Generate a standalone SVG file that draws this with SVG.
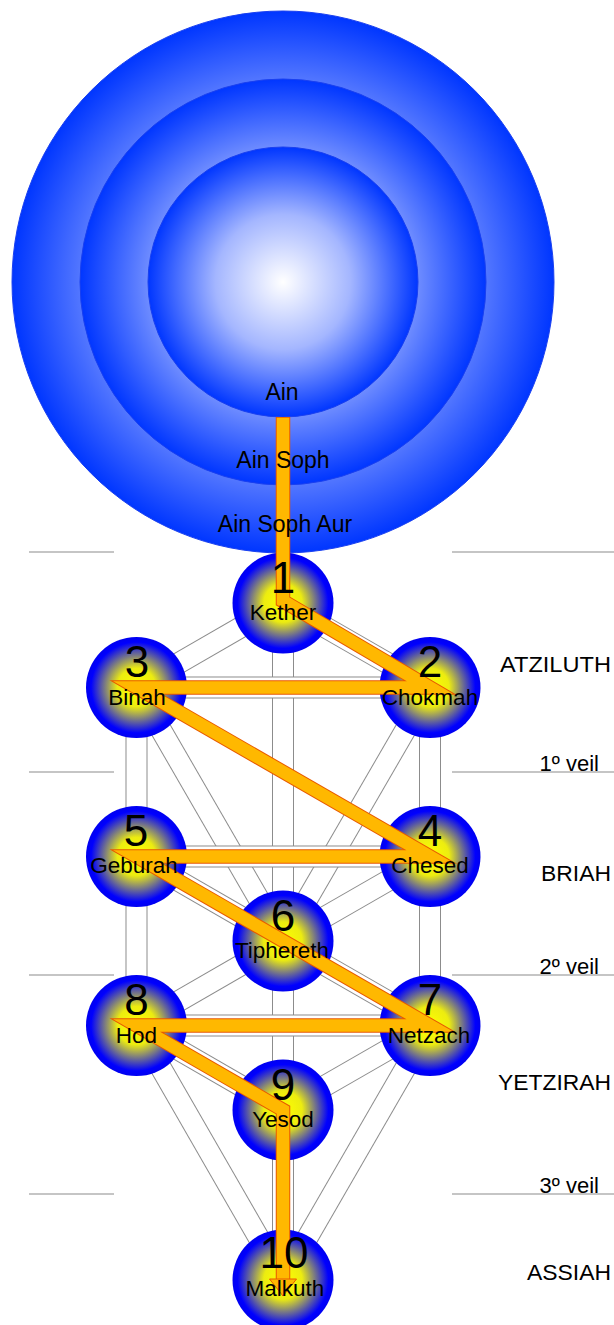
<svg xmlns="http://www.w3.org/2000/svg" width="614" height="1325" viewBox="0 0 614 1325">
<defs>
<radialGradient id="gBig" cx="50%" cy="50%" r="50%">
<stop offset="0" stop-color="#ffffff"/>
<stop offset="0.5" stop-color="#a4b6ff"/>
<stop offset="1" stop-color="#0036ff"/>
</radialGradient>
<radialGradient id="gNode" cx="50%" cy="50%" r="50%">
<stop offset="0" stop-color="#ffff00"/>
<stop offset="0.38" stop-color="#ecec10"/>
<stop offset="0.9" stop-color="#0000ff"/>
<stop offset="1" stop-color="#0000f0"/>
</radialGradient>
<style>
.big{fill:url(#gBig);stroke:#1a40f0;stroke-width:1}
.node{fill:url(#gNode)}
.bo{stroke:#8c8c8c;stroke-width:22;fill:none}
.bi{stroke:#ffffff;stroke-width:20;fill:none}
.veil{stroke:#8c8c8c;stroke-width:1.2}
text{font-family:"Liberation Sans",Arial,Helvetica,sans-serif;fill:#000}
.num{font-size:44px;text-anchor:middle}
.lbl{font-size:22.5px;text-anchor:middle}
.ain{font-size:23px;text-anchor:middle}
.side{font-size:22px;text-anchor:end}
.fo{fill:none;stroke:#e85a00;stroke-width:14.5;stroke-linejoin:miter;stroke-miterlimit:10}
.fi{fill:none;stroke:#ffb800;stroke-width:12.5;stroke-linejoin:miter;stroke-miterlimit:10}
</style>
</defs>
<rect width="614" height="1325" fill="#ffffff"/>

<g id="ain-soph-aur"><circle class="big" cx="283" cy="282" r="271"/></g>
<g id="ain-soph"><circle class="big" cx="283" cy="282" r="203"/></g>
<g id="ain"><circle class="big" cx="283" cy="282" r="135"/></g>

<g id="veils">
<line class="veil" x1="29" y1="552" x2="114" y2="552"/>
<line class="veil" x1="452" y1="552" x2="614" y2="552"/>
<line class="veil" x1="29" y1="772" x2="114" y2="772"/>
<line class="veil" x1="452" y1="772" x2="614" y2="772"/>
<line class="veil" x1="29" y1="975" x2="114" y2="975"/>
<line class="veil" x1="452" y1="975" x2="614" y2="975"/>
<line class="veil" x1="29" y1="1194" x2="114" y2="1194"/>
<line class="veil" x1="452" y1="1194" x2="614" y2="1194"/>
</g>

<g id="connectors">
<g id="paths">
<line class="bo" x1="283" y1="603" x2="430" y2="687.5"/><line class="bi" x1="283" y1="603" x2="430" y2="687.5"/>
<line class="bo" x1="283" y1="603" x2="136.5" y2="687.5"/><line class="bi" x1="283" y1="603" x2="136.5" y2="687.5"/>
<line class="bo" x1="283" y1="603" x2="283" y2="941"/><line class="bi" x1="283" y1="603" x2="283" y2="941"/>
<line class="bo" x1="430" y1="687.5" x2="430" y2="856.5"/><line class="bi" x1="430" y1="687.5" x2="430" y2="856.5"/>
<line class="bo" x1="136.5" y1="687.5" x2="136.5" y2="856.5"/><line class="bi" x1="136.5" y1="687.5" x2="136.5" y2="856.5"/>
<line class="bo" x1="430" y1="687.5" x2="283" y2="941"/><line class="bi" x1="430" y1="687.5" x2="283" y2="941"/>
<line class="bo" x1="136.5" y1="687.5" x2="283" y2="941"/><line class="bi" x1="136.5" y1="687.5" x2="283" y2="941"/>
<line class="bo" x1="430" y1="856.5" x2="283" y2="941"/><line class="bi" x1="430" y1="856.5" x2="283" y2="941"/>
<line class="bo" x1="136.5" y1="856.5" x2="283" y2="941"/><line class="bi" x1="136.5" y1="856.5" x2="283" y2="941"/>
<line class="bo" x1="430" y1="856.5" x2="430" y2="1025.5"/><line class="bi" x1="430" y1="856.5" x2="430" y2="1025.5"/>
<line class="bo" x1="136.5" y1="856.5" x2="136.5" y2="1025.5"/><line class="bi" x1="136.5" y1="856.5" x2="136.5" y2="1025.5"/>
<line class="bo" x1="283" y1="941" x2="430" y2="1025.5"/><line class="bi" x1="283" y1="941" x2="430" y2="1025.5"/>
<line class="bo" x1="283" y1="941" x2="136.5" y2="1025.5"/><line class="bi" x1="283" y1="941" x2="136.5" y2="1025.5"/>
<line class="bo" x1="283" y1="941" x2="283" y2="1110"/><line class="bi" x1="283" y1="941" x2="283" y2="1110"/>
<line class="bo" x1="430" y1="1025.5" x2="283" y2="1110"/><line class="bi" x1="430" y1="1025.5" x2="283" y2="1110"/>
<line class="bo" x1="136.5" y1="1025.5" x2="283" y2="1110"/><line class="bi" x1="136.5" y1="1025.5" x2="283" y2="1110"/>
<line class="bo" x1="430" y1="1025.5" x2="283" y2="1280"/><line class="bi" x1="430" y1="1025.5" x2="283" y2="1280"/>
<line class="bo" x1="136.5" y1="1025.5" x2="283" y2="1280"/><line class="bi" x1="136.5" y1="1025.5" x2="283" y2="1280"/>
<line class="bo" x1="283" y1="1110" x2="283" y2="1280"/><line class="bi" x1="283" y1="1110" x2="283" y2="1280"/>
<line class="bo" x1="136.5" y1="687.5" x2="430" y2="687.5"/><line class="bi" x1="136.5" y1="687.5" x2="430" y2="687.5"/>
<line class="bo" x1="136.5" y1="856.5" x2="430" y2="856.5"/><line class="bi" x1="136.5" y1="856.5" x2="430" y2="856.5"/>
<line class="bo" x1="136.5" y1="1025.5" x2="430" y2="1025.5"/><line class="bi" x1="136.5" y1="1025.5" x2="430" y2="1025.5"/>
</g>
</g>

<g id="kether"><circle class="node" cx="283" cy="603" r="50.5"/></g>
<g id="chokmah"><circle class="node" cx="430" cy="687.5" r="50.5"/></g>
<g id="binah"><circle class="node" cx="136.5" cy="687.5" r="50.5"/></g>
<g id="chesed"><circle class="node" cx="430" cy="856.5" r="50.5"/></g>
<g id="geburah"><circle class="node" cx="136.5" cy="856.5" r="50.5"/></g>
<g id="tiphereth"><circle class="node" cx="283" cy="941" r="50.5"/></g>
<g id="netzach"><circle class="node" cx="430" cy="1025.5" r="50.5"/></g>
<g id="hod"><circle class="node" cx="136.5" cy="1025.5" r="50.5"/></g>
<g id="yesod"><circle class="node" cx="283" cy="1110" r="50.5"/></g>
<g id="malkuth"><circle class="node" cx="283" cy="1280" r="50.5"/></g>

<g id="lightning-flash">
<polyline class="fo" points="283,417 283,601 430,687.5 136.5,687.5 430,856.5 136.5,856.5 430,1025.5 136.5,1025.5 283,1110 283,1280"/>
<polyline class="fi" points="283,417.8 283,601 430,687.5 136.5,687.5 430,856.5 136.5,856.5 430,1025.5 136.5,1025.5 283,1110 283,1280.5"/>
<polygon points="269.5,1279 296.5,1279 283,1296" fill="#ffb800" stroke="#e85a00" stroke-width="1"/>
</g>

<g id="labels-ain">
<text class="ain" x="282" y="400">Ain</text>
<text class="ain" x="283" y="468">Ain Soph</text>
<text class="ain" x="285" y="532">Ain Soph Aur</text>
</g>

<g id="kether-text"><text class="num" x="283" y="593">1</text><text class="lbl" x="283" y="620">Kether</text></g>
<g id="chokmah-text"><text class="num" x="430" y="677">2</text><text class="lbl" x="430" y="704.5">Chokmah</text></g>
<g id="binah-text"><text class="num" x="137" y="677">3</text><text class="lbl" x="137" y="704.5">Binah</text></g>
<g id="chesed-text"><text class="num" x="430" y="846">4</text><text class="lbl" x="430" y="873">Chesed</text></g>
<g id="geburah-text"><text class="num" x="136" y="846">5</text><text class="lbl" x="134" y="873">Geburah</text></g>
<g id="tiphereth-text"><text class="num" x="283" y="931">6</text><text class="lbl" x="282" y="958">Tiphereth</text></g>
<g id="netzach-text"><text class="num" x="430" y="1015">7</text><text class="lbl" x="429" y="1042.5">Netzach</text></g>
<g id="hod-text"><text class="num" x="136.5" y="1015">8</text><text class="lbl" x="136.5" y="1042.5">Hod</text></g>
<g id="yesod-text"><text class="num" x="283" y="1100">9</text><text class="lbl" x="283" y="1127">Yesod</text></g>
<g id="malkuth-text"><text class="num" x="284" y="1268">10</text><text class="lbl" x="285" y="1296">Malkuth</text></g>

<g id="worlds">
<text class="side" x="611" y="671.5" textLength="111" lengthAdjust="spacingAndGlyphs">ATZILUTH</text>
<text class="side" x="599" y="771">1º veil</text>
<text class="side" x="611" y="881" textLength="70" lengthAdjust="spacingAndGlyphs">BRIAH</text>
<text class="side" x="599" y="974">2º veil</text>
<text class="side" x="611" y="1090" textLength="113" lengthAdjust="spacingAndGlyphs">YETZIRAH</text>
<text class="side" x="599" y="1193">3º veil</text>
<text class="side" x="611" y="1280" textLength="84" lengthAdjust="spacingAndGlyphs">ASSIAH</text>
</g>
</svg>
